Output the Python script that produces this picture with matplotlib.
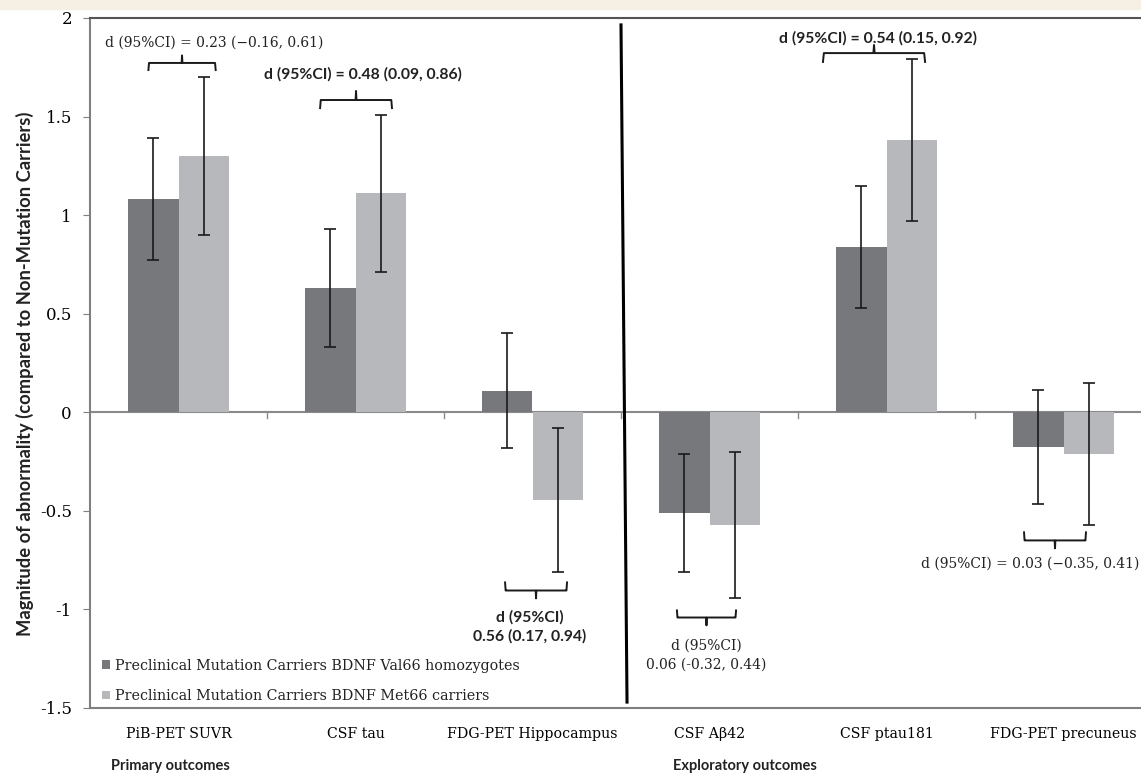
import matplotlib
matplotlib.use("Agg")
import matplotlib.pyplot as plt
import numpy as np

categories = ["PiB-PET SUVR", "CSF tau", "FDG-PET Hippocampus",
              "CSF A\u03b242", "CSF ptau181", "FDG-PET precuneus"]
val66_means = [1.08, 0.63, 0.11, -0.51, 0.84, -0.175]
val66_err = [0.31, 0.30, 0.29, 0.30, 0.31, 0.29]
met66_means = [1.30, 1.11, -0.445, -0.57, 1.38, -0.21]
met66_err = [0.40, 0.40, 0.365, 0.37, 0.41, 0.36]
series_labels = ["Preclinical Mutation Carriers BDNF Val66 homozygotes",
                 "Preclinical Mutation Carriers BDNF Met66 carriers"]
yticks = [2, 1.5, 1, 0.5, 0, -0.5, -1, -1.5]
ytick_labels = ["2", "1.5", "1", "0.5", "0", "-0.5", "-1", "-1.5"]

SERIF = "DejaVu Serif"
SANS = "Lato"

fig = plt.figure(figsize=(11.41, 7.74), dpi=100)
# beige strip at top
fig.patches.append(plt.Rectangle((0, 1 - 9 / 774), 1, 9 / 774, transform=fig.transFigure,
                                 color="#F5F0E3", zorder=0))
ax = fig.add_axes([90 / 1141, 1 - 708 / 774, 1062 / 1141, 690 / 774])
ax.set_xlim(-0.5, 5.5)
ax.set_ylim(-1.5, 2)

x = np.arange(len(categories))
w = 0.285
dark = "#77787B"
light = "#B7B8BB"
ekw = dict(ecolor="#1a1a1a", elinewidth=1.2, capsize=4, capthick=1.2)
ax.bar(x - w / 2, val66_means, w, color=dark, yerr=val66_err, error_kw=ekw,
       label=series_labels[0], zorder=2)
ax.bar(x + w / 2, met66_means, w, color=light, yerr=met66_err, error_kw=ekw,
       label=series_labels[1], zorder=2)

ax.axhline(0, color="#8a8a8a", lw=1.5, zorder=1)
for b in np.arange(0.5, 5.0, 1.0):
    ax.plot([b, b], [0, -0.03], color="#8a8a8a", lw=1, zorder=1)

for s in ["left", "bottom", "top"]:
    ax.spines[s].set_color("#7f7f7f")
    ax.spines[s].set_linewidth(1.5)
ax.spines["top"].set_color("#555555")
ax.spines["right"].set_visible(False)

ax.set_yticks(yticks)
ax.set_yticklabels(ytick_labels, fontfamily=SERIF, fontsize=12)
ax.tick_params(axis="y", length=5, color="#7f7f7f", pad=8)
ax.set_xticks(x)
ax.set_xticklabels(categories, fontfamily=SERIF, fontsize=10.2)
ax.tick_params(axis="x", length=0, pad=14)

fig.text(25 / 1141, 1 - 374 / 774,
         "Magnitude of abnormality (compared to Non-Mutation Carriers)",
         fontfamily=SANS, fontweight="bold", fontsize=13.2, rotation=90,
         ha="center", va="center", color="#222222")

# divider line
ax.plot([2.5, 2.534], [1.965, -1.47], color="black", lw=2.2, zorder=3, clip_on=False)

def brace(x0, x1, y_end, y_mid, y_tip):
    xc = (x0 + x1) / 2
    r = (x1 - x0) * 0.03
    xs = [x0, x0 + r * 0.3, x0 + r, xc - r, xc - r * 0.2, xc, xc + r * 0.2, xc + r, x1 - r, x1 - r * 0.3, x1]
    ys = [y_end, y_mid, y_mid, y_mid, y_mid, y_tip, y_mid, y_mid, y_mid, y_mid, y_end]
    ax.plot(xs, ys, color="#1a1a1a", lw=1.4, zorder=3, clip_on=False, solid_joinstyle="round")

brace(-0.17, 0.21, 1.736, 1.772, 1.810)
brace(0.80, 1.206, 1.543, 1.584, 1.63)
brace(3.641, 4.218, 1.777, 1.822, 1.863)
brace(1.845, 2.195, -0.863, -0.904, -0.944)
brace(2.816, 3.150, -1.005, -1.041, -1.081)
brace(4.777, 5.127, -0.609, -0.650, -0.690)

tk = dict(va="center", color="#222222", zorder=4, clip_on=False)
ax.text(0.20, 1.873, "d (95%CI) = 0.23 (\u22120.16, 0.61)", fontfamily=SERIF, fontsize=10, ha="center", **tk)
ax.text(1.042, 1.716, "d (95%CI) = 0.48 (0.09, 0.86)", fontfamily=SANS, fontweight="bold", fontsize=11.3, ha="center", **tk)
ax.text(3.952, 1.898, "d (95%CI) = 0.54 (0.15, 0.92)", fontfamily=SANS, fontweight="bold", fontsize=11.3, ha="center", **tk)
ax.text(1.986, -1.04, "d (95%CI)", fontfamily=SANS, fontweight="bold", fontsize=11.3, ha="center", **tk)
ax.text(1.986, -1.137, "0.56 (0.17, 0.94)", fontfamily=SANS, fontweight="bold", fontsize=11.3, ha="center", **tk)
ax.text(2.98, -1.183, "d (95%CI)", fontfamily=SERIF, fontsize=10, ha="center", **tk)
ax.text(2.98, -1.279, "0.06 (-0.32, 0.44)", fontfamily=SERIF, fontsize=10, ha="center", **tk)
ax.text(5.428, -0.766, "d (95%CI) = 0.03 (\u22120.35, 0.41)", fontfamily=SERIF, fontsize=10, ha="right", **tk)

leg = ax.legend(loc="lower left", bbox_to_anchor=(0.0113, 0.007), frameon=False,
                prop={"family": SERIF, "size": 10.3}, handlelength=0.55, handleheight=0.55,
                handletextpad=0.35, labelspacing=1.15, borderaxespad=0, borderpad=0)
for t in leg.get_texts():
    t.set_color("#222222")

fig.text(170 / 1141, 1 - 766 / 774, "Primary outcomes", fontfamily=SANS, fontweight="bold",
         fontsize=10.5, ha="center", va="center", color="#222222")
fig.text(745 / 1141, 1 - 766 / 774, "Exploratory outcomes", fontfamily=SANS, fontweight="bold",
         fontsize=10.5, ha="center", va="center", color="#222222")

fig.savefig("out.png", dpi=100)
